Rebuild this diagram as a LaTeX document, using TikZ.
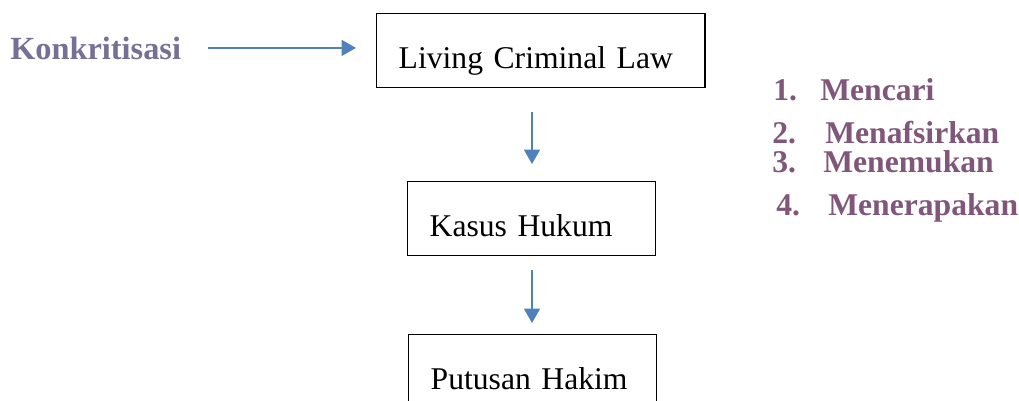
\documentclass[tikz,border=0pt]{standalone}
\usepackage{fontspec}
\setmainfont{Liberation Serif}[WordSpace=0.8]
\usetikzlibrary{arrows.meta}
\definecolor{arrowblue}{RGB}{79,129,189}
\definecolor{konkcol}{RGB}{118,112,150}
\definecolor{listcol}{RGB}{128,86,122}

\begin{document}
\begin{tikzpicture}[x=0.025cm, y=-0.025cm,
  >={Triangle[length=0.36cm, width=0.4cm]},
  box/.style={draw, line width=1pt, anchor=north west, inner xsep=0.55cm, inner ysep=0pt,
    text height=1.375cm, text depth=0.475cm, align=left, font=\fontsize{22.5}{27}\selectfont},
  flow/.style={->, arrowblue, line width=1.2pt},
  fancy/.style={anchor=base west, inner sep=0pt, text=listcol,
    font=\bfseries\fontsize{22.5}{27}\selectfont}]

\clip (0,0) rectangle (1019,401);

% boxes
\draw(376,13) node[box, text width=7.1cm] (living) {Living Criminal Law};
\draw(407,181) node[box, text width=5.1cm] (kasus) {Kasus Hukum};
\draw(408,334) node[box, text width=5.1cm] (putusan) {Putusan Hakim};

\draw(10,59) node[fancy, text=konkcol, font=\bfseries\fontsize{23}{27}\selectfont] (konk) {Konkritisasi};

% steps
\draw(773,100) node[fancy] (n1) {1.};
\draw(820,100) node[fancy] (w1) {Mencari};
\draw(772,143) node[fancy] (n2) {2.};
\draw(825,143) node[fancy] (w2) {Menafsirkan};
\draw(772,172) node[fancy] (n3) {3.};
\draw(823,172) node[fancy] (w3) {Menemukan};
\draw(776,215) node[fancy] (n4) {4.};
\draw(828,215) node[fancy] (w4) {Menerapakan};

% arrows
\coordinate (axis) at (532,0);
\draw[flow, shorten <=0.675cm, shorten >=0.5cm] (konk.east) -- (konk.east -| living.west);
\draw[flow, shorten <=0.6cm, shorten >=0.425cm] (living.south -| axis) -- (kasus.north -| axis);
\draw[flow, shorten <=0.35cm, shorten >=0.275cm] (kasus.south -| axis) -- (putusan.north -| axis);

\end{tikzpicture}
\end{document}
